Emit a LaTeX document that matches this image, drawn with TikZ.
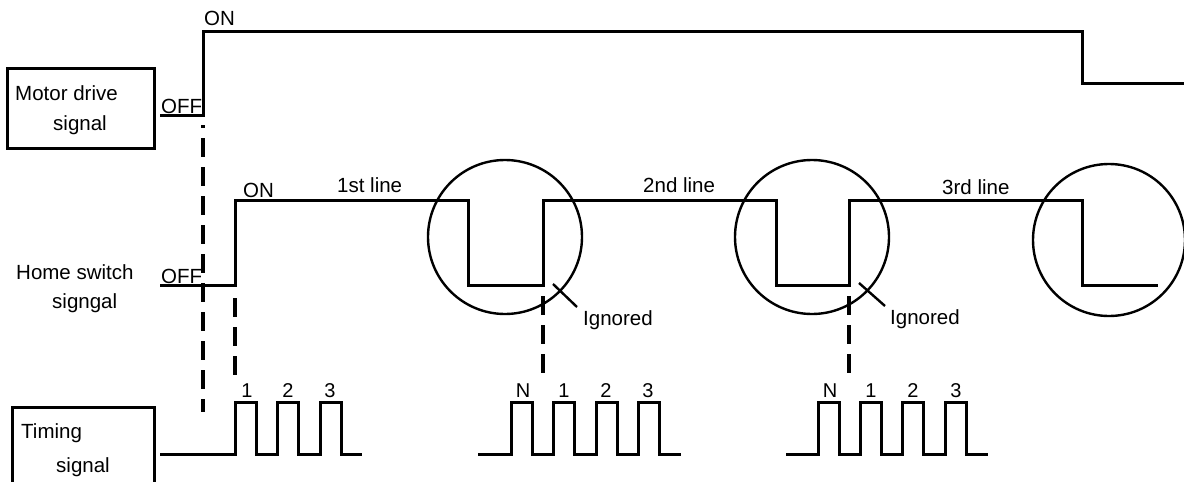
\documentclass[tikz,border=0pt]{standalone}
\usepackage{fontspec}
\setmainfont{Liberation Sans}
\begin{document}
\begin{tikzpicture}[x=1pt,y=-1pt,
  sig/.style={line width=3pt},
  ring/.style={line width=2.4pt},
  guide/.style={line width=3.2pt,dash pattern=on 19pt off 10pt},
  txt/.style={inner sep=0pt,anchor=base west,font=\fontsize{20.5}{24}\selectfont},
  num/.style={inner sep=0pt,anchor=base,font=\fontsize{20}{24}\selectfont}]
\useasboundingbox (0,0) rectangle (1184,482);
% boxes on the left
\draw[sig] (7,68) rectangle (154,148);
\draw[sig] (12,484) -- (12,407) -- (154,407) -- (154,484);
\node[txt] (motor) at (15,100) {Motor drive};
\node[txt] (motor2) at (53,130) {signal};
\node[txt] (home) at (16,279) {Home switch};
\node[txt] (home2) at (52,308) {signgal};
\node[txt] (timing) at (21,438) {Timing};
\node[txt] (timing2) at (56,472) {signal};
% motor drive signal
\draw[sig] (160,115) -- (203,115) -- (203,31) -- (1082,31) -- (1082,83) -- (1186,83);
\node[txt] (mon) at (204,25) {ON};
\node[txt] (moff) at (161,113) {OFF};
% home switch signal
\draw[sig] (160,285) -- (235,285) -- (235,200) -- (468,200) -- (468,285) -- (543,285)
  -- (543,200) -- (776,200) -- (776,285) -- (849,285) -- (849,200) -- (1082,200)
  -- (1082,285) -- (1158,285);
\node[txt] (hon) at (243,197) {ON};
\node[txt] (hoff) at (161,283) {OFF};
\node[txt] (l1) at (337,192) {1st line};
\node[txt] (l2) at (643,192) {2nd line};
\node[txt] (l3) at (942,194) {3rd line};
\draw[ring] (505,237) circle (77pt);
\draw[ring] (812,237) circle (77pt);
\draw[ring] (1109,240) circle (76pt);
\draw[ring] (553,284) -- (577,307);
\draw[ring] (859,283) -- (885,306);
\node[txt] (ign1) at (583,325) {Ignored};
\node[txt] (ign2) at (890,324) {Ignored};
% timing signal
\draw[sig] (160,454) \foreach \x in {235,277,320} {-- (\x,454) -- (\x,402) -- (\x+21,402) -- (\x+21,454)} -- (362,454);
\draw[sig] (478,454) \foreach \x in {511,553,596,638} {-- (\x,454) -- (\x,402) -- (\x+21,402) -- (\x+21,454)} -- (681,454);
\draw[sig] (786,454) \foreach \x in {818,860,902,945} {-- (\x,454) -- (\x,402) -- (\x+21,402) -- (\x+21,454)} -- (988,454);
\node[num] (a1) at (247,397) {1};
\node[num] (a2) at (288,397) {2};
\node[num] (a3) at (330,397) {3};
\node[num] (bn) at (523,397) {N};
\node[num] (b1) at (564,397) {1};
\node[num] (b2) at (606,397) {2};
\node[num] (b3) at (648,397) {3};
\node[num] (cn) at (830,397) {N};
\node[num] (c1) at (871,397) {1};
\node[num] (c2) at (913,397) {2};
\node[num] (c3) at (956,397) {3};
% guide lines
\coordinate (g1a) at (203,125); \coordinate (g1b) at (203,412);
\coordinate (g2a) at (235,298); \coordinate (g2b) at (235,380);
\coordinate (g3a) at (543,296); \coordinate (g3b) at (543,380);
\coordinate (g4a) at (849,296); \coordinate (g4b) at (849,380);
\draw[guide,dash phase=16pt] (g1a) -- (g1b);
\draw[guide] (g2a) -- (g2b);
\draw[guide] (g3a) -- (g3b);
\draw[guide] (g4a) -- (g4b);
\end{tikzpicture}
\end{document}
